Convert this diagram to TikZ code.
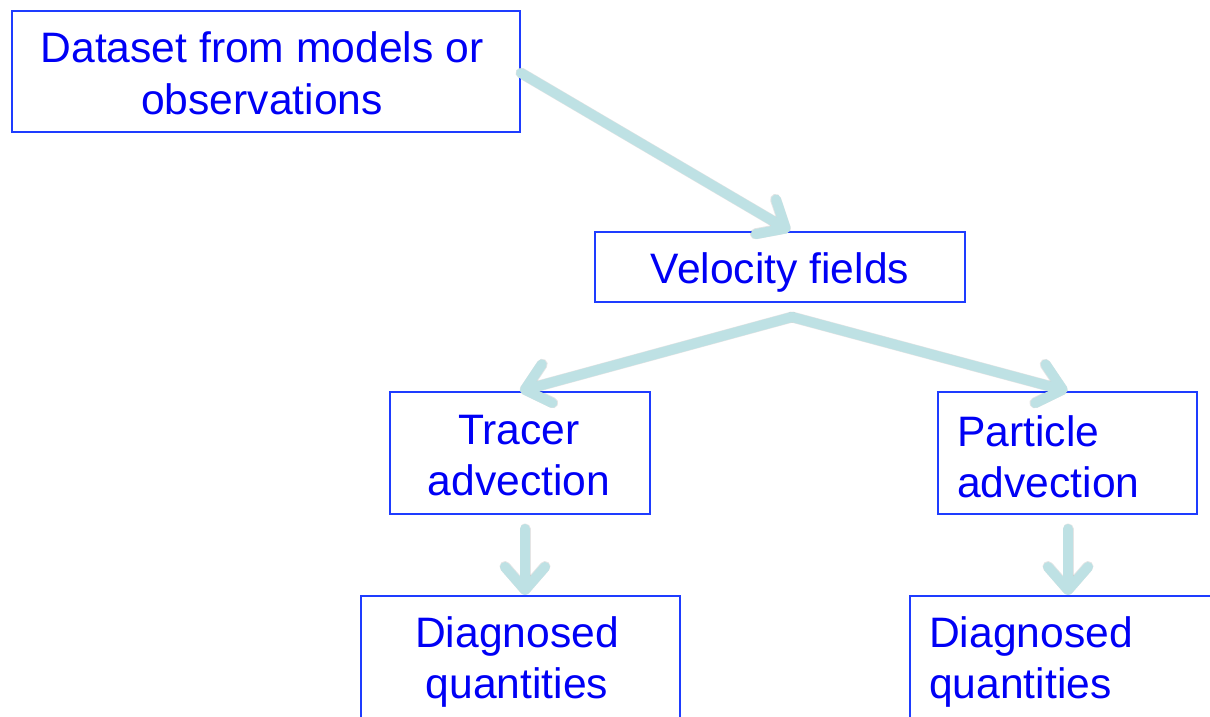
\documentclass[tikz,border=0pt]{standalone}
\usepackage{fontspec}
\setmainfont{Liberation Sans}
\usetikzlibrary{arrows.meta,calc}
\definecolor{boxblue}{RGB}{30,60,255}
\definecolor{txtblue}{RGB}{0,0,245}
\definecolor{flow}{RGB}{190,225,228}
\tikzset{
  box/.style={draw=boxblue, line width=2pt, rectangle, inner sep=0pt},
  lbl/.style={text=txtblue, inner sep=0pt, font=\fontsize{42.6}{51.5}\selectfont},
  barb/.tip={Straight Barb[length=23pt,width=40pt,line cap=round,line join=round]},
  flowarrow/.style={draw=flow, line width=10pt, line cap=round, line join=round, -barb},
  flowshadow/.style={draw=black, opacity=0.10, line width=11pt, line cap=round, line join=round, -barb},
}
\begin{document}
\begin{tikzpicture}[x=1pt,y=-1pt]
  \useasboundingbox (0,0) rectangle (1210,716);
  \clip (0,0) rectangle (1210,716);

  % boxes
  \node[box, minimum width=508pt, minimum height=121pt] (data) at (266,71.5) {};
  \node[box, minimum width=370pt, minimum height=70pt] (vel) at (780,267) {};
  \node[box, minimum width=260pt, minimum height=122pt] (tracer) at (520,453) {};
  \node[box, minimum width=259pt, minimum height=122pt] (part) at (1067.5,453) {};
  \node[box, minimum width=319pt, minimum height=128pt] (diagA) at (520.5,660) {};
  \node[box, minimum width=320pt, minimum height=128pt] (diagB) at (1070,660) {};

  % labels
  \node[lbl, align=center] (dataT) at (262,73.5) {Dataset from models or\\observations};
  \node[lbl] (velT) at (780,272.5) {Velocity fields};
  \node[lbl, align=center] (tracerT) at (519,455.5) {Tracer\\advection};
  \node[lbl, align=left, anchor=west] (partT) at (957,457) {Particle\\advection};
  \node[lbl, align=center] (diagAT) at (517,662) {Diagnosed\\quantities};
  \node[lbl, align=left, anchor=west] (diagBT) at (929,662) {Diagnosed\\quantities};

  % connector end points
  \coordinate (split) at ($(vel.south)+(12,14)$);
  \coordinate (dataout) at ($(data.east)+(0,1.5)$);
  \coordinate (velin) at ($(vel.north)+(10,0)$);
  \coordinate (trout) at ($(tracer.south)+(5,14)$);
  \coordinate (trin) at ($(diagA.north)+(4.5,0)$);
  \coordinate (paout) at ($(part.south)+(0.5,14)$);
  \coordinate (pain) at ($(diagB.north)+(-2,0)$);

  % soft shadows under the connectors
  \begin{scope}[shift={(2,3)}]
    \draw[flowshadow] (dataout) -- (velin);
    \draw[flowshadow] (split) -- (tracer.north);
    \draw[flowshadow] (split) -- (part.north);
    \draw[flowshadow] (trout) -- (trin);
    \draw[flowshadow] (paout) -- (pain);
  \end{scope}

  % connectors
  \draw[flowarrow] (dataout) -- (velin);
  \draw[flowarrow] (split) -- (tracer.north);
  \draw[flowarrow] (split) -- (part.north);
  \draw[flowarrow] (trout) -- (trin);
  \draw[flowarrow] (paout) -- (pain);
\end{tikzpicture}
\end{document}
